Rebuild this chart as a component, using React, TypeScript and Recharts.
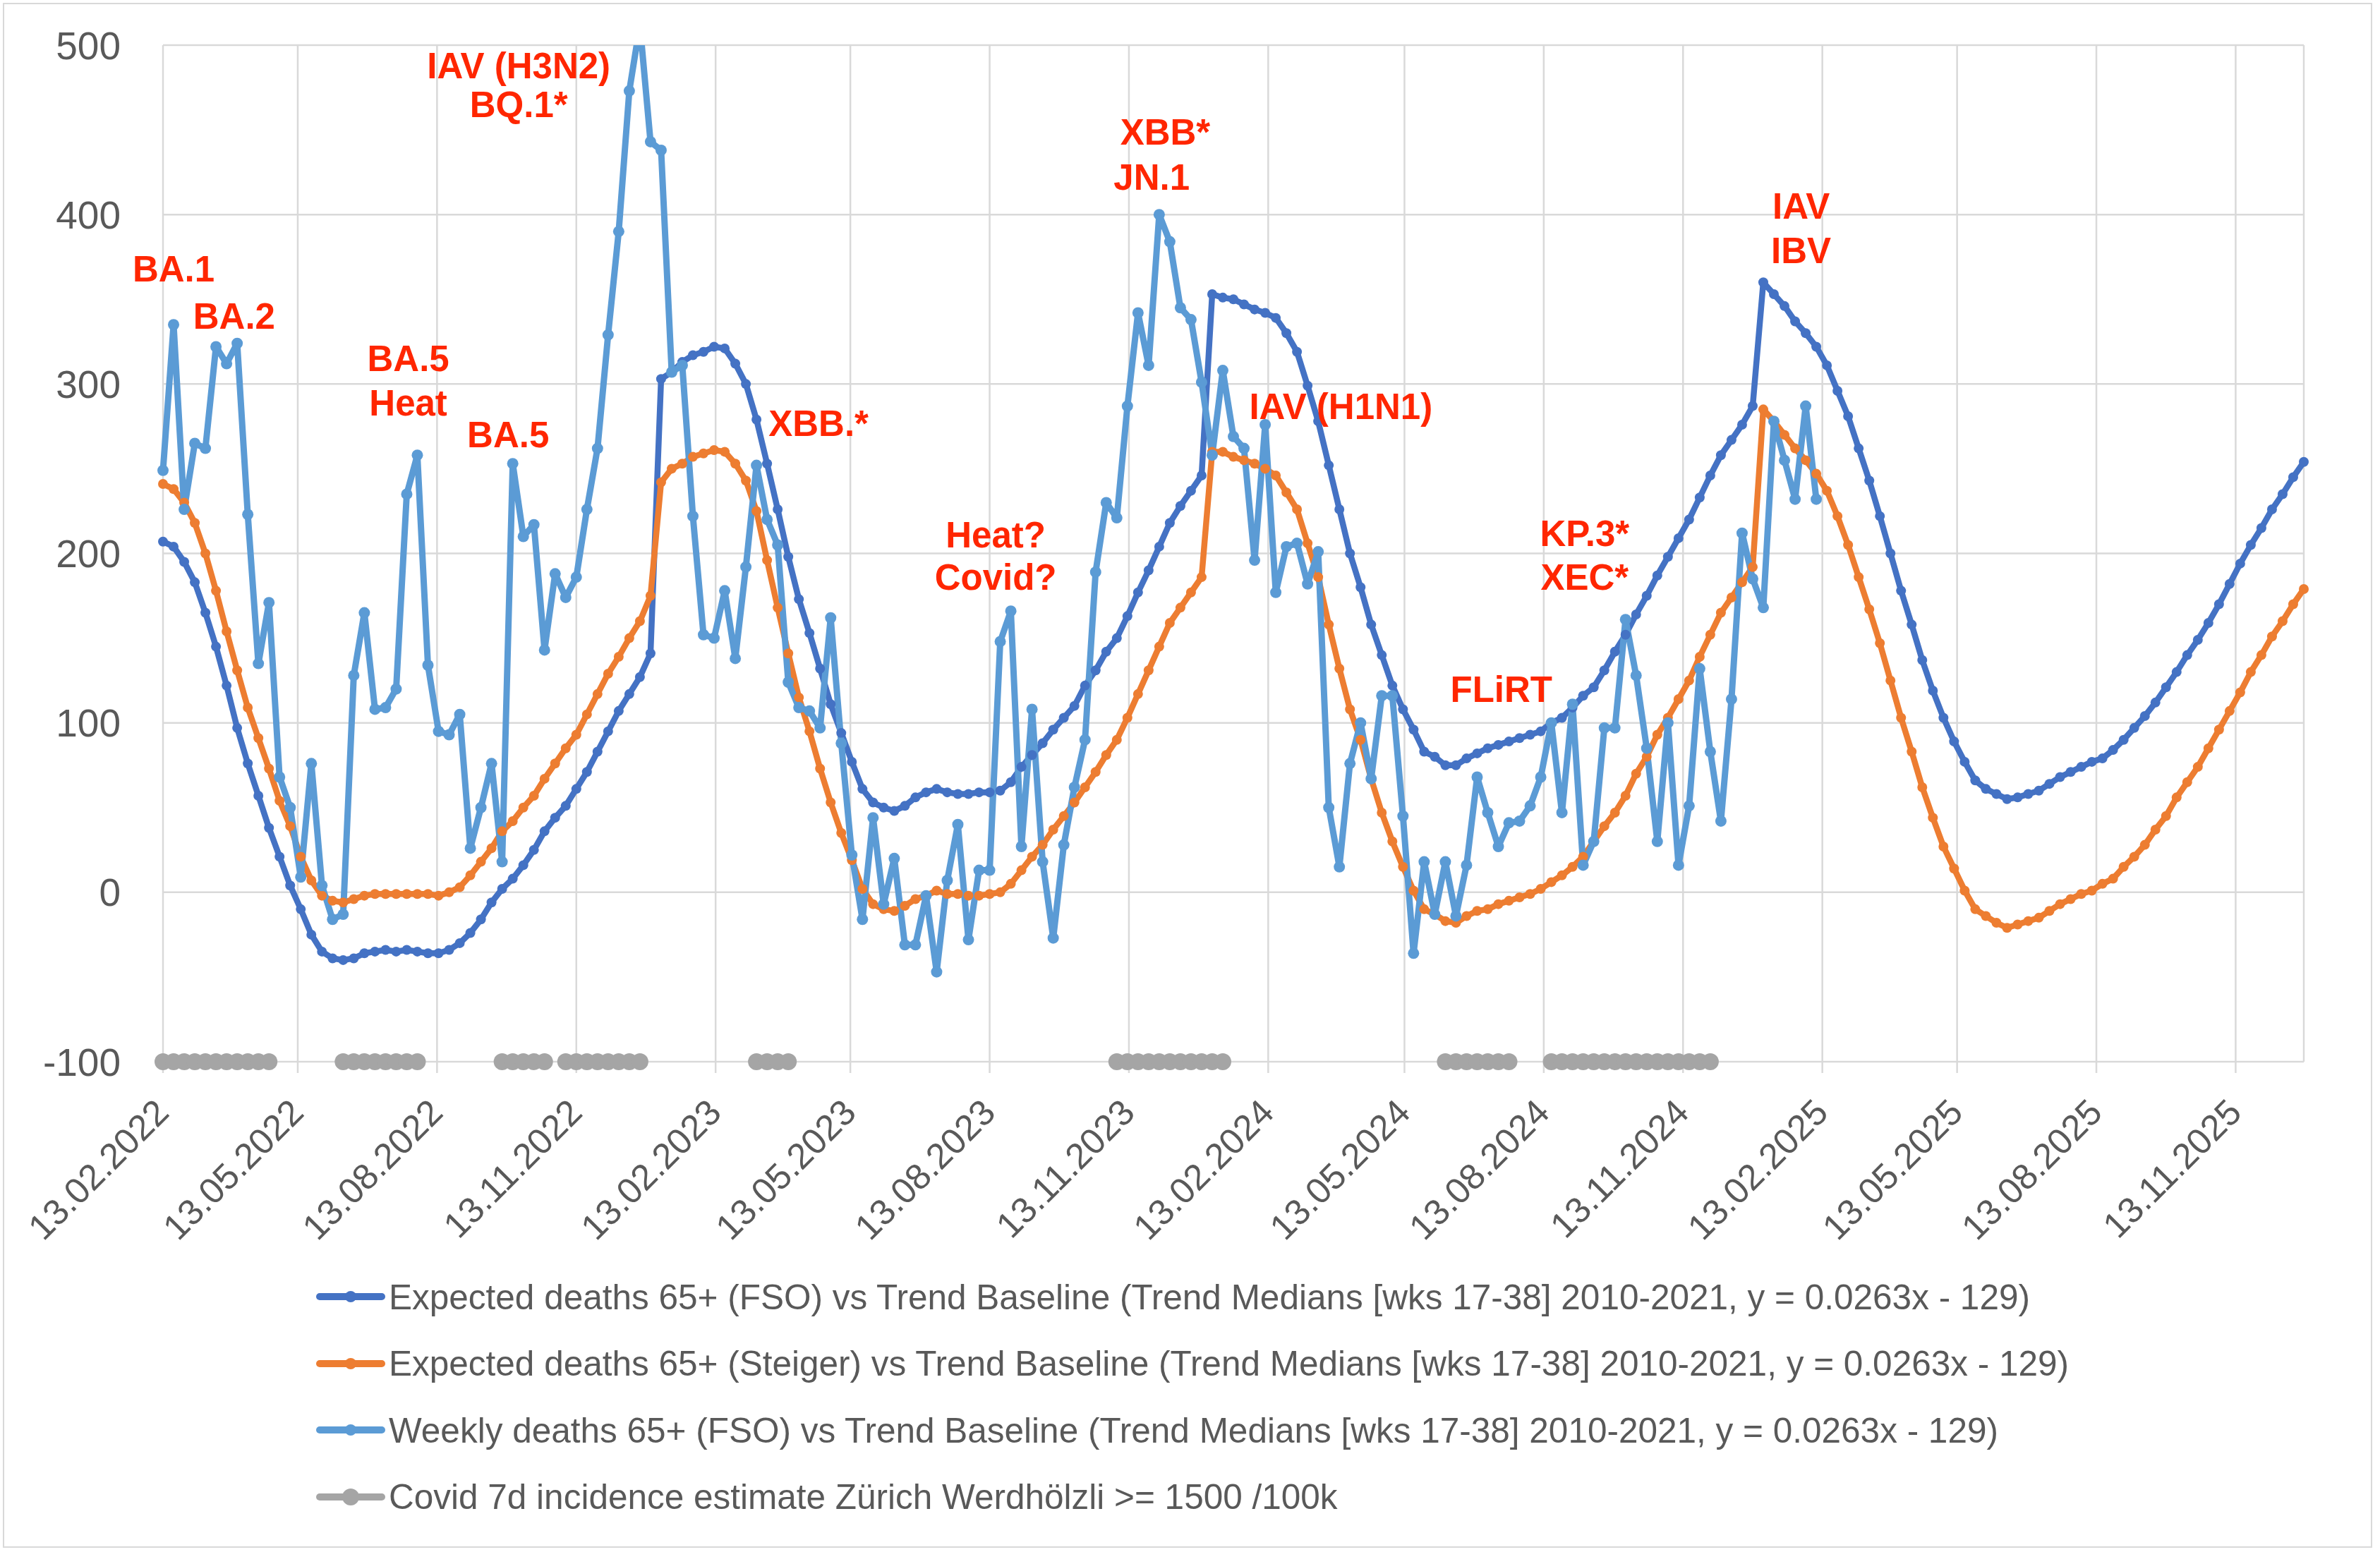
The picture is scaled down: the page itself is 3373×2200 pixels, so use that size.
import React from 'react';
import { LineChart, Line, XAxis, YAxis, CartesianGrid, Legend, ReferenceDot } from 'recharts';

const FONT = '"Liberation Sans", Arial, sans-serif';
const DAY = 86400000;

// one point per week, the first week ends on this date
const firstWeek = '13.02.2022';

const expectedFso = [
  207, 204, 195, 183, 165, 145, 122, 97, 76, 57, 38, 21, 4, -10, -25, -35, -39, -40, -39, -36, -35, -34, -35, -34, -35, -36,
  -36, -34, -30, -24, -16, -6, 2, 8, 16, 25, 36, 44, 51, 61, 71, 83, 95, 107, 117, 127, 141,
  303, 307, 313, 317, 319, 322, 321,
  312, 300, 279, 253, 226, 198, 173, 153, 132, 111, 94, 77, 61, 53, 50, 48, 51, 56, 59, 61, 59, 58, 58, 59, 59, 60,
  65, 74, 81, 88, 96, 103, 110, 122, 131, 142, 150, 163, 177, 190, 204, 218, 228, 237, 246,
  353, 351, 350, 347, 344, 342, 339,
  330, 319, 299, 278, 252, 226, 200, 180, 158, 140, 122, 108, 96, 83, 80, 75, 75, 79, 82, 85, 87, 89, 91, 93, 95, 100,
  103, 109, 116, 121, 131, 142, 152, 164, 175, 187, 198, 209, 220, 233, 246, 258, 267, 276, 287,
  360, 353, 346, 337, 330, 322, 311,
  296, 281, 262, 243, 222, 200, 178, 158, 137, 119, 103, 89, 77, 66, 61, 58, 55, 56, 58, 60, 64, 68, 71, 74, 77, 79,
  84, 90, 97, 104, 112, 121, 130, 140, 149, 159, 170, 182, 194, 205, 215, 226, 235, 245, 254,
];

const expectedSteiger = [
  241, 238, 230, 218, 200, 178, 154, 131, 109, 91, 73, 54, 39, 21, 7, -2, -5, -6, -4, -2, -1, -1, -1, -1, -1, -1,
  -2, 0, 3, 10, 18, 26, 36, 42, 50, 57, 67, 76, 85, 93, 105, 117, 129, 139, 150, 160, 175,
  242, 250, 253, 257, 259, 261, 260,
  253, 243, 225, 196, 168, 141, 115, 95, 73, 53, 35, 19, 2, -7, -10, -11, -8, -4, -2, 1, -1, -1, -2, -2, -1, 0,
  5, 13, 21, 28, 37, 45, 53, 62, 71, 81, 90, 103, 117, 131, 145, 159, 168, 177, 186,
  260, 260, 257, 255, 253, 250, 246,
  236, 226, 206, 186, 158, 132, 108, 90, 67, 47, 30, 15, 1, -10, -13, -17, -18, -14, -11, -10, -7, -5, -3, -1, 2, 6,
  10, 15, 21, 30, 39, 47, 57, 70, 80, 93, 103, 114, 125, 139, 152, 165, 174, 183, 192,
  285, 278, 270, 262, 255, 247, 237,
  222, 205, 186, 167, 147, 125, 103, 83, 62, 44, 27, 14, 1, -10, -14, -18, -21, -19, -17, -15, -11, -7, -4, -1, 1, 5,
  8, 15, 21, 28, 37, 45, 56, 65, 74, 85, 96, 107, 118, 130, 140, 151, 160, 170, 179,
];

const weeklyFso = [
  249, 335, 226, 265, 262, 322, 312, 324, 223, 135, 171, 68, 50, 9, 76, 4, -16, -13, 128, 165, 108, 109, 120, 235, 258, 134,
  95, 93, 105, 26, 50, 76, 18, 253, 210, 217, 143, 188, 174, 186, 226, 262, 329, 390, 473, 512, 443, 438, 307, 311, 222, 152, 150, 178,
  138, 192, 252, 220, 205, 124, 109, 107, 97, 162, 88, 22, -16, 44, -7, 20, -31, -31, -2, -47, 7, 40, -28, 13, 13, 148,
  166, 27, 108, 18, -27, 28, 62, 90, 189, 230, 221, 287, 342, 311, 400, 384, 345, 338, 301, 258, 308, 269, 262, 196, 276, 177,
  204, 206, 182, 201, 50, 15, 76, 100, 67, 116, 116, 45, -36, 18, -13, 18, -14, 16, 68, 47, 27, 41, 42, 51, 68, 100,
  47, 111, 16, 30, 97, 97, 161, 128, 85, 30, 100, 16, 51, 132, 83, 42, 114, 212, 185, 168, 278, 255, 232, 287, 232,
];

// week index runs where the Werdhölzli estimate was >= 1500/100k
const covidRuns = [[0, 10], [17, 24], [32, 36], [38, 45], [56, 59], [90, 100], [121, 127], [131, 146]];
const covidLevel = -100;

const xTickLabels = [
  '13.02.2022', '13.05.2022', '13.08.2022', '13.11.2022',
  '13.02.2023', '13.05.2023', '13.08.2023', '13.11.2023',
  '13.02.2024', '13.05.2024', '13.08.2024', '13.11.2024',
  '13.02.2025', '13.05.2025', '13.08.2025', '13.11.2025',
];
const yTicks = [-100, 0, 100, 200, 300, 400, 500];

const notes = [
  { date: '20.02.2022', value: 368, text: 'BA.1' },
  { date: '01.04.2022', value: 340, text: 'BA.2' },
  { date: '25.07.2022', value: 315, text: 'BA.5' },
  { date: '25.07.2022', value: 289, text: 'Heat' },
  { date: '29.09.2022', value: 270, text: 'BA.5' },
  { date: '06.10.2022', value: 488, text: 'IAV (H3N2)' },
  { date: '06.10.2022', value: 465, text: 'BQ.1*' },
  { date: '22.04.2023', value: 277, text: 'XBB.*' },
  { date: '17.08.2023', value: 211, text: 'Heat?' },
  { date: '17.08.2023', value: 186, text: 'Covid?' },
  { date: '07.12.2023', value: 449, text: 'XBB*' },
  { date: '28.11.2023', value: 422, text: 'JN.1' },
  { date: '01.04.2024', value: 287, text: 'IAV (H1N1)' },
  { date: '16.07.2024', value: 120, text: 'FLiRT' },
  { date: '09.09.2024', value: 212, text: 'KP.3*' },
  { date: '09.09.2024', value: 186, text: 'XEC*' },
  { date: '30.01.2025', value: 405, text: 'IAV' },
  { date: '30.01.2025', value: 379, text: 'IBV' },
];

const C = {
  fso: '#4472C4',
  steiger: '#ED7D31',
  weekly: '#5B9BD5',
  covid: '#A5A5A5',
  text: '#595959',
  grid: '#D9D9D9',
  note: '#FF2600',
};

const series = [
  { key: 'fso', color: C.fso, name: 'Expected deaths 65+ (FSO) vs Trend Baseline (Trend Medians [wks 17-38] 2010-2021, y = 0.0263x - 129)' },
  { key: 'steiger', color: C.steiger, name: 'Expected deaths 65+ (Steiger) vs Trend Baseline (Trend Medians [wks 17-38] 2010-2021, y = 0.0263x - 129)' },
  { key: 'weekly', color: C.weekly, name: 'Weekly deaths 65+ (FSO) vs Trend Baseline (Trend Medians [wks 17-38] 2010-2021, y = 0.0263x - 129)' },
  { key: 'covid', color: C.covid, name: 'Covid 7d incidence estimate Zürich Werdhölzli >= 1500 /100k' },
];

const toTime = (s: string) => {
  const [d, m, y] = s.split('.').map(Number);
  return Date.UTC(y, m - 1, d);
};

const fmtDate = (t: number) => {
  const d = new Date(t);
  const p = (n: number) => String(n).padStart(2, '0');
  return `${p(d.getUTCDate())}.${p(d.getUTCMonth() + 1)}.${d.getUTCFullYear()}`;
};

const T0 = toTime(firstWeek);
const rows = expectedFso.map((v, i) => ({
  t: T0 + i * 7 * DAY,
  fso: v,
  steiger: expectedSteiger[i],
  weekly: i < weeklyFso.length ? weeklyFso[i] : null,
  covid: covidRuns.some(([a, b]) => i >= a && i <= b) ? covidLevel : null,
}));
const TEND = rows[rows.length - 1].t;
const xTicks = xTickLabels.map(toTime);

const XTick = (props: any) => {
  const { x, y, payload } = props;
  return (
    <text
      x={0}
      y={0}
      transform={`translate(${x + 11},${y + 57}) rotate(-45)`}
      textAnchor="end"
      fontSize={51}
      fontFamily={FONT}
      fill={C.text}
    >
      {fmtDate(payload.value)}
    </text>
  );
};

// weekly peak above 500 is cut off by the plot edge, so no marker there
const weeklyDot = (p: any) => {
  if (p.cy == null || p.value == null || p.value > 500) return <g key={`wd-${p.index}`} />;
  return <circle key={`wd-${p.index}`} cx={p.cx} cy={p.cy} r={8} fill={C.weekly} />;
};

const renderLegend = () => (
  <div style={{ fontFamily: FONT, fontSize: 49.5, color: C.text }}>
    {series.map((s) => (
      <div key={s.key} style={{ display: 'flex', alignItems: 'center', height: 94.5 }}>
        <svg width={100} height={28}>
          <line x1={6} y1={14} x2={94} y2={14} stroke={s.color} strokeWidth={10} strokeLinecap="round" />
          <circle cx={50} cy={14} r={s.key === 'covid' ? 12 : 8} fill={s.color} />
        </svg>
        <span style={{ marginLeft: 4, whiteSpace: 'nowrap', lineHeight: 1 }}>{s.name}</span>
      </div>
    ))}
  </div>
);

export default function App() {
  return (
    <div style={{ position: 'relative', width: 3373, height: 2200, background: '#fff' }}>
      <style>{'body{margin:0}'}</style>
      <LineChart
        width={3373}
        height={2200}
        data={rows}
        margin={{ top: 64, right: 108, bottom: 0, left: 0 }}
      >
        <CartesianGrid stroke={C.grid} strokeWidth={2.5} />
        <XAxis
          type="number"
          dataKey="t"
          domain={[T0, TEND]}
          ticks={xTicks}
          interval={0}
          height={695}
          axisLine={false}
          tickSize={16}
          tickLine={{ stroke: C.grid, strokeWidth: 2.5 }}
          tick={XTick}
        />
        <YAxis
          type="number"
          domain={[-100, 500]}
          ticks={yTicks}
          allowDataOverflow
          width={231}
          axisLine={false}
          tickLine={false}
          tickSize={0}
          tickMargin={60}
          tick={{ fontSize: 55, fill: C.text, fontFamily: FONT }}
        />
        <Legend
          content={renderLegend}
          layout="vertical"
          align="center"
          verticalAlign="middle"
          width={2700}
          height={380}
          wrapperStyle={{ left: 447, top: 1791 }}
        />
        <Line
          dataKey="fso"
          name={series[0].name}
          type="linear"
          stroke={C.fso}
          strokeWidth={8.5}
          strokeLinejoin="round"
          dot={{ r: 7, fill: C.fso, stroke: C.fso, strokeWidth: 0, clipDot: false }}
          activeDot={false}
          isAnimationActive={false}
        />
        <Line
          dataKey="steiger"
          name={series[1].name}
          type="linear"
          stroke={C.steiger}
          strokeWidth={8.5}
          strokeLinejoin="round"
          dot={{ r: 7, fill: C.steiger, stroke: C.steiger, strokeWidth: 0, clipDot: false }}
          activeDot={false}
          isAnimationActive={false}
        />
        <Line
          dataKey="weekly"
          name={series[2].name}
          type="linear"
          stroke={C.weekly}
          strokeWidth={9}
          strokeLinejoin="round"
          strokeLinecap="round"
          dot={weeklyDot}
          activeDot={false}
          isAnimationActive={false}
        />
        <Line
          dataKey="covid"
          name={series[3].name}
          type="linear"
          stroke={C.covid}
          strokeWidth={12}
          dot={{ r: 12, fill: C.covid, stroke: C.covid, strokeWidth: 0, clipDot: false }}
          activeDot={false}
          isAnimationActive={false}
        />
        {notes.map((n, i) => (
          <ReferenceDot
            key={`note-${i}`}
            x={toTime(n.date)}
            y={n.value}
            r={0}
            fill="none"
            stroke="none"
            label={{
              value: n.text,
              position: 'center',
              fill: C.note,
              fontSize: 51,
              fontWeight: 'bold',
              fontFamily: FONT,
            }}
          />
        ))}
      </LineChart>
      <div
        style={{
          position: 'absolute',
          left: 4,
          top: 4,
          width: 3358,
          height: 2190,
          border: `2px solid ${C.grid}`,
          boxSizing: 'border-box',
          pointerEvents: 'none',
        }}
      />
    </div>
  );
}
